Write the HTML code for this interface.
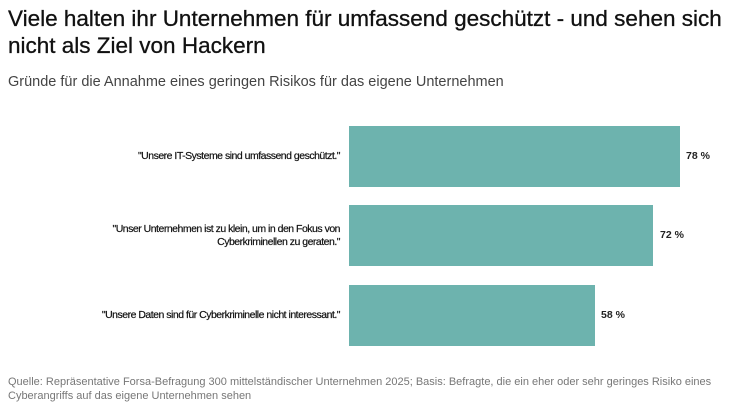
<!DOCTYPE html>
<html><head><meta charset="utf-8"><style>
body{margin:0;width:735px;height:413px;background:#fff;font-family:"Liberation Sans",sans-serif;position:relative;overflow:hidden}
.t{position:absolute;left:8px;top:5px;font-size:22.5px;line-height:27px;color:#111;width:725px;-webkit-text-stroke:0.3px #111}
.s{position:absolute;left:8px;top:74px;font-size:14.5px;color:#444}
.bar{position:absolute;left:349px;background:#6db3ae;height:61px}
.l{position:absolute;right:395px;font-size:10.5px;color:#111;text-align:right;letter-spacing:-0.5px;line-height:13px;-webkit-text-stroke:0.2px #111}
.v{position:absolute;font-size:10.5px;font-weight:bold;color:#222}
.f{position:absolute;left:8px;top:375px;font-size:11px;line-height:14px;color:#777;width:720px}
</style></head><body>
<div class="t">Viele halten ihr Unternehmen für umfassend geschützt - und sehen sich nicht als Ziel von Hackern</div>
<div class="s">Gründe für die Annahme eines geringen Risikos für das eigene Unternehmen</div>
<div class="bar" style="top:126px;width:331px"></div>
<div class="bar" style="top:205px;width:304px"></div>
<div class="bar" style="top:285px;width:246px"></div>
<div class="l" style="top:150px">"Unsere IT-Systeme sind umfassend geschützt."</div>
<div class="l" style="top:223px">"Unser Unternehmen ist zu klein, um in den Fokus von<br>Cyberkriminellen zu geraten."</div>
<div class="l" style="top:309px">"Unsere Daten sind für Cyberkriminelle nicht interessant."</div>
<div class="v" style="left:686px;top:150px">78 %</div>
<div class="v" style="left:660px;top:229px">72 %</div>
<div class="v" style="left:601px;top:309px">58 %</div>
<div class="f">Quelle: Repräsentative Forsa-Befragung 300 mittelständischer Unternehmen 2025; Basis: Befragte, die ein eher oder sehr geringes Risiko eines Cyberangriffs auf das eigene Unternehmen sehen</div>
</body></html>
